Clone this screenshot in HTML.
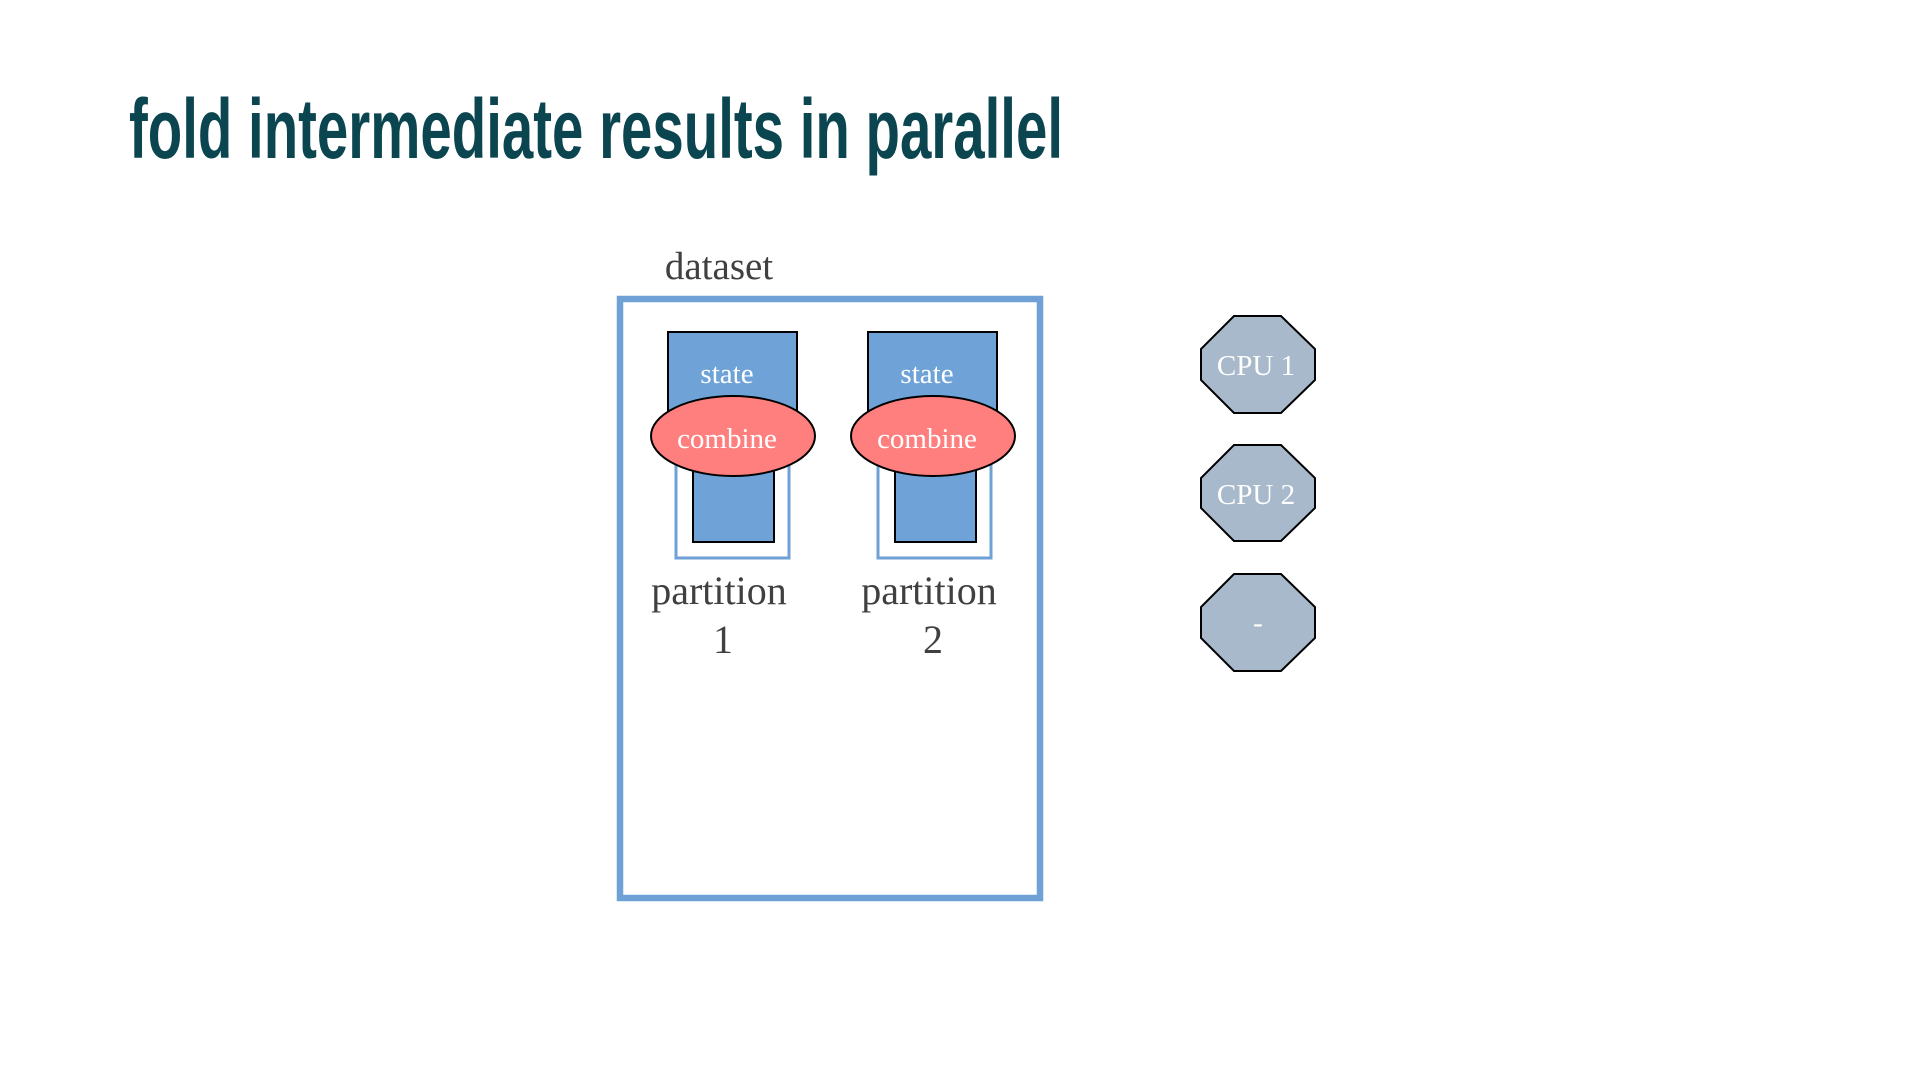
<!DOCTYPE html>
<html><head><meta charset="utf-8"><style>
html,body{margin:0;padding:0;background:#fff;width:1920px;height:1080px;overflow:hidden}
svg{display:block}
</style></head><body>
<svg width="1920" height="1080" viewBox="0 0 1920 1080">
<text x="129" y="158" font-family="'Liberation Sans Narrow','Liberation Sans',sans-serif" font-weight="bold" font-size="84" fill="#0b4650" textLength="934" lengthAdjust="spacingAndGlyphs">fold intermediate results in parallel</text>
<text x="719" y="279" text-anchor="middle" font-family="'Liberation Serif',serif" font-size="39" fill="#404040">dataset</text>
<rect x="620" y="299" width="420" height="599" fill="none" stroke="#6fa1d6" stroke-width="6.5"/>
<g>
<rect x="676" y="430" width="113" height="128" fill="none" stroke="#6fa1d6" stroke-width="3"/>
<rect x="693" y="440" width="81" height="102" fill="#6fa3d8" stroke="#000" stroke-width="2"/>
<rect x="668" y="332" width="129" height="110" fill="#6fa3d8" stroke="#000" stroke-width="2"/>
<text x="727" y="383" text-anchor="middle" font-family="'Liberation Serif',serif" font-size="29" fill="#fff">state</text>
<ellipse cx="733" cy="436" rx="82" ry="40" fill="#ff7f7f" stroke="#000" stroke-width="2"/>
<text x="727" y="448" text-anchor="middle" font-family="'Liberation Serif',serif" font-size="29" fill="#fff">combine</text>
<text x="719" y="604" text-anchor="middle" font-family="'Liberation Serif',serif" font-size="40" fill="#404040">partition</text>
<text x="723" y="653" text-anchor="middle" font-family="'Liberation Serif',serif" font-size="40" fill="#404040">1</text>
</g>
<g>
<rect x="878" y="430" width="113" height="128" fill="none" stroke="#6fa1d6" stroke-width="3"/>
<rect x="895" y="440" width="81" height="102" fill="#6fa3d8" stroke="#000" stroke-width="2"/>
<rect x="868" y="332" width="129" height="110" fill="#6fa3d8" stroke="#000" stroke-width="2"/>
<text x="927" y="383" text-anchor="middle" font-family="'Liberation Serif',serif" font-size="29" fill="#fff">state</text>
<ellipse cx="933" cy="436" rx="82" ry="40" fill="#ff7f7f" stroke="#000" stroke-width="2"/>
<text x="927" y="448" text-anchor="middle" font-family="'Liberation Serif',serif" font-size="29" fill="#fff">combine</text>
<text x="929" y="604" text-anchor="middle" font-family="'Liberation Serif',serif" font-size="40" fill="#404040">partition</text>
<text x="933" y="653" text-anchor="middle" font-family="'Liberation Serif',serif" font-size="40" fill="#404040">2</text>
</g>
<g font-family="'Liberation Serif',serif" font-size="29" fill="#fff" text-anchor="middle">
<polygon points="1234,316 1281,316 1315,349 1315,380 1281,413 1234,413 1201,380 1201,349" fill="#a9b9cc" stroke="#000" stroke-width="2"/>
<text x="1256" y="375">CPU 1</text>
<polygon points="1234,445 1281,445 1315,478 1315,508 1281,541 1234,541 1201,508 1201,478" fill="#a9b9cc" stroke="#000" stroke-width="2"/>
<text x="1256" y="504">CPU 2</text>
<polygon points="1234,574 1281,574 1315,607 1315,638 1281,671 1234,671 1201,638 1201,607" fill="#a9b9cc" stroke="#000" stroke-width="2"/>
<text x="1258" y="632">-</text>
</g>
</svg>
</body></html>
